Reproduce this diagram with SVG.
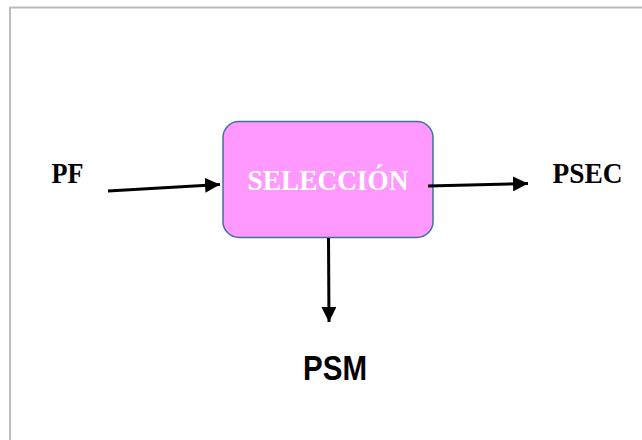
<svg xmlns="http://www.w3.org/2000/svg" width="642" height="440" viewBox="0 0 642 440">
<defs>
<style>
.lbl{font-family:"Liberation Serif","Times New Roman",serif;font-weight:bold;font-size:30px;fill:#000}
.conn{stroke:#000;stroke-width:3;fill:none}
</style>
<marker id="ah" viewBox="0 0 10 10" refX="10" refY="5" markerWidth="5" markerHeight="5" markerUnits="strokeWidth" orient="auto">
<path d="M0,0 L10,5 L0,10 z" fill="#000"/>
</marker>
</defs>
<rect width="642" height="440" fill="#fff"/>
<g id="frame">
<path d="M10,440 V7.5 H642" fill="none" stroke="#bcbcbc" stroke-width="2"/>
</g>
<g id="seleccion">
<rect x="223" y="121.5" width="210" height="116" rx="16" fill="#ff99ff" stroke="#41719c" stroke-width="1.5"/>
<text x="328" y="190" text-anchor="middle" class="lbl" style="fill:#fff" textLength="161" lengthAdjust="spacingAndGlyphs">SELECCIÓN</text>
</g>
<g id="pf"><text x="51.5" y="183" class="lbl" textLength="32" lengthAdjust="spacingAndGlyphs">PF</text></g>
<g id="psec"><text x="552.5" y="183" class="lbl" textLength="70" lengthAdjust="spacingAndGlyphs">PSEC</text></g>
<g id="psm"><text x="335" y="380" text-anchor="middle" font-family="'Liberation Sans',Arial,sans-serif" font-weight="bold" font-size="35" textLength="64" lengthAdjust="spacingAndGlyphs">PSM</text></g>
<g id="connectors">
<line class="conn" x1="108" y1="191" x2="220" y2="184.5" marker-end="url(#ah)"/>
<line class="conn" x1="428" y1="186" x2="528" y2="183.5" marker-end="url(#ah)"/>
<line class="conn" x1="328.5" y1="238" x2="329" y2="322" marker-end="url(#ah)"/>
</g>
</svg>
